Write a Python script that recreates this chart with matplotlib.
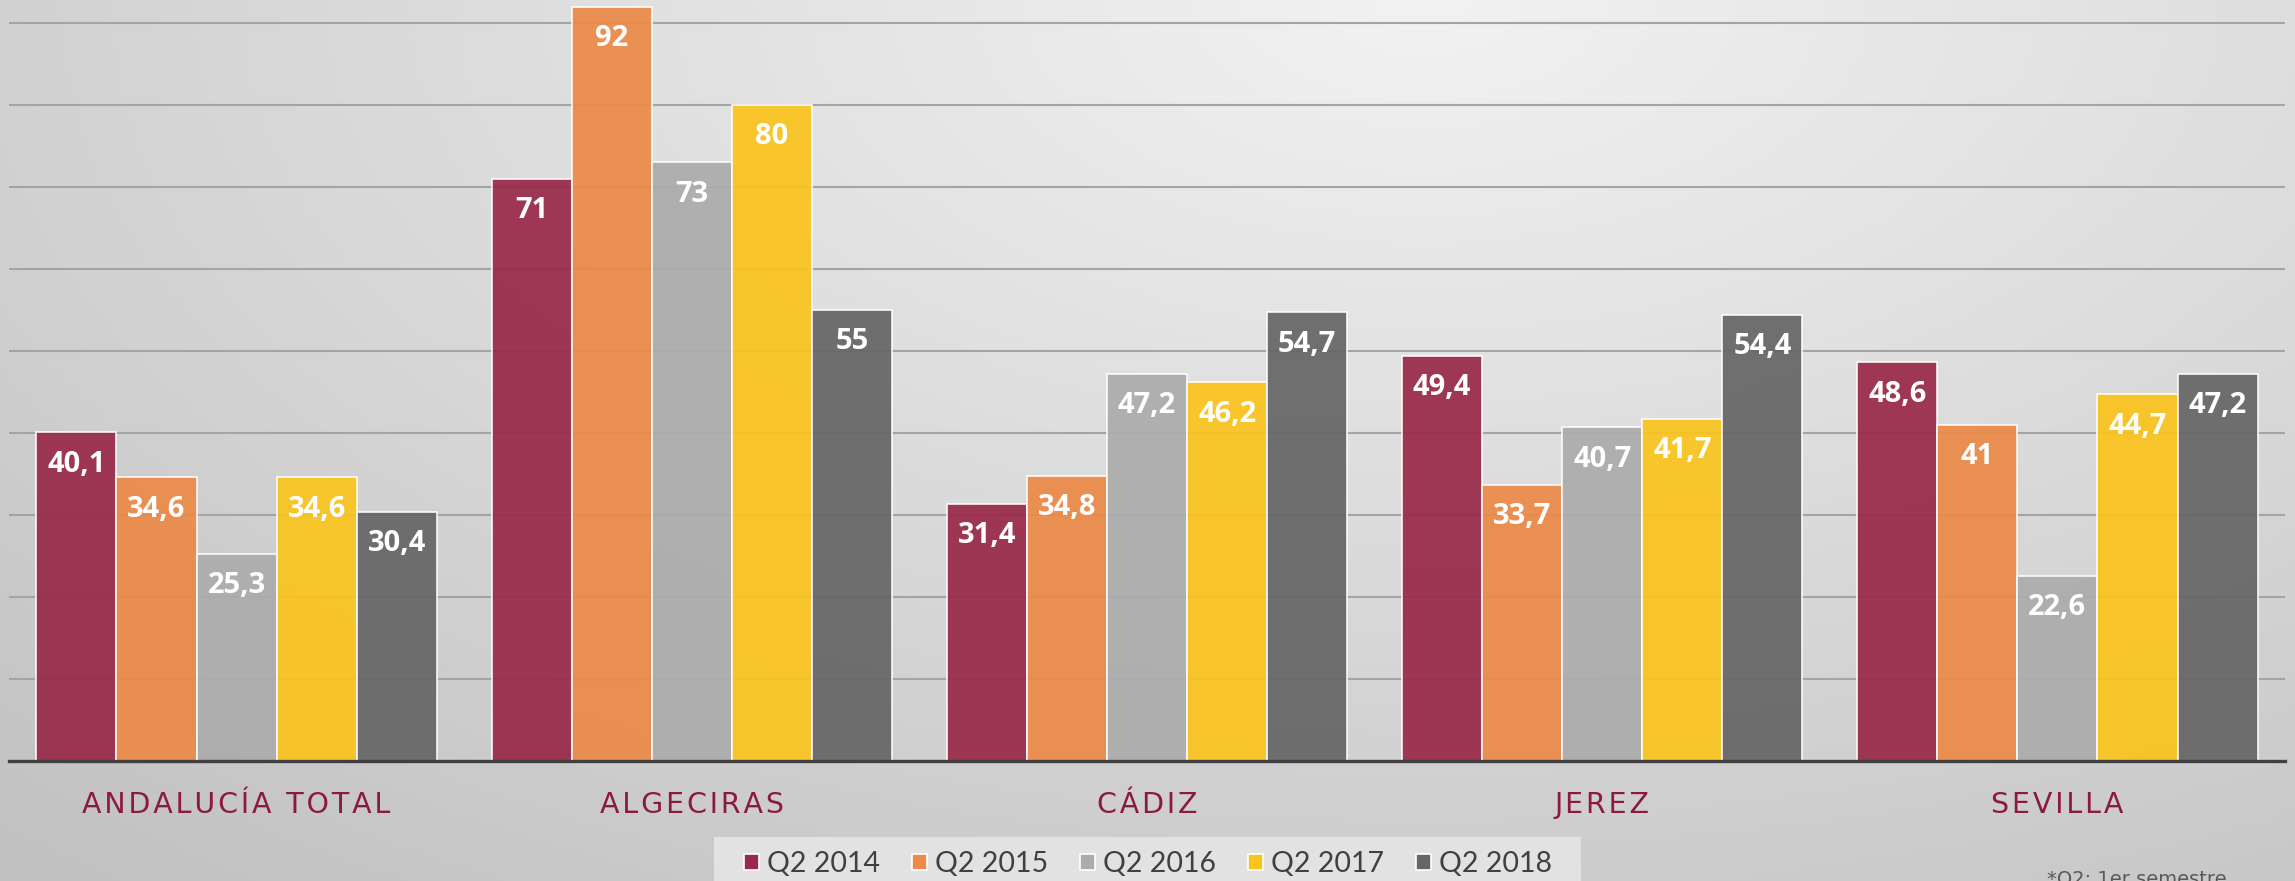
import matplotlib
matplotlib.use("Agg")
import matplotlib.pyplot as plt
from matplotlib.patches import Rectangle
import numpy as np

# data
categories = ["ANDALUCÍA TOTAL", "ALGECIRAS", "CÁDIZ", "JEREZ", "SEVILLA"]
series_names = ["Q2 2014", "Q2 2015", "Q2 2016", "Q2 2017", "Q2 2018"]
q2_2014 = [40.1, 71, 31.4, 49.4, 48.6]
q2_2015 = [34.6, 92, 34.8, 33.7, 41]
q2_2016 = [25.3, 73, 47.2, 40.7, 22.6]
q2_2017 = [34.6, 80, 46.2, 41.7, 44.7]
q2_2018 = [30.4, 55, 54.7, 54.4, 47.2]
series_values = [q2_2014, q2_2015, q2_2016, q2_2017, q2_2018]
colors = ["#992a49", "#ec8a48", "#acacac", "#fac41e", "#666666"]

W, H = 2295, 881
fig = plt.figure(figsize=(W / 100, H / 100), dpi=100)

# gradient background, lighter towards top centre-right
bg = fig.add_axes([0, 0, 1, 1], zorder=-10)
yy, xx = np.mgrid[0:1:200j, 0:1:400j]
d = np.sqrt(((xx - 0.62) * 1.4) ** 2 + (yy * 1.0) ** 2)
light = 0.95 - 0.16 * np.clip(d, 0, 1.3) / 1.3 * 1.2
light = np.clip(light, 0.76, 0.96)
bg.imshow(np.dstack([light] * 3), aspect="auto", extent=[0, 1, 0, 1], origin="upper")
bg.axis("off")

ax = fig.add_axes([9 / W, (H - 761) / H, (2285 - 9) / W, 761 / H])
ax.patch.set_alpha(0)

x = np.arange(len(categories))
width = 0.176
for i, (name, vals, c) in enumerate(zip(series_names, series_values, colors)):
    pos = x + (i - 2) * width
    bars = ax.bar(pos, vals, width, color=c, alpha=0.93, edgecolor=(1, 1, 1, 0.55),
                  linewidth=1.2, label=name, zorder=3)
    for b, v in zip(bars, vals):
        txt = f"{v:g}".replace(".", ",")
        ax.annotate(txt, (b.get_x() + b.get_width() / 2, v), xytext=(0, -23),
                    textcoords="offset points", ha="center", va="center",
                    color="white", fontsize=21, fontweight="bold",
                    family=["Open Sans", "DejaVu Sans"], zorder=5)

ax.set_xlim(-0.5, 4.5)
ax.set_ylim(0, 92.8)
ax.set_yticks(np.arange(10, 91, 10))
ax.yaxis.grid(True, color="#a4a4a4", linewidth=1.5, zorder=1)
ax.tick_params(axis="y", left=False, labelleft=False)
ax.set_xticks(x)
# hair spaces give the wide letter spacing of the original
spaced = ["\u200a".join(c) for c in categories]
ax.set_xticklabels(spaced, fontsize=20.5, color="#8c1a3c", family="DejaVu Sans")
ax.tick_params(axis="x", bottom=False, pad=18)
for s in ["top", "right", "left"]:
    ax.spines[s].set_visible(False)
ax.spines["bottom"].set_color("#404040")
ax.spines["bottom"].set_linewidth(2.4)
ax.spines["bottom"].set_zorder(4)

# legend box
fig.patches.append(Rectangle((714 / W, 0), (1581 - 714) / W, 44 / H,
                             transform=fig.transFigure, facecolor="#e2e2e2",
                             edgecolor="none", zorder=0))
leg = fig.legend(loc="center", bbox_to_anchor=(1148 / W, 17 / H), ncol=5,
                 prop={"family": ["Lato", "DejaVu Sans"], "size": 20.5},
                 frameon=False, handlelength=0.5, handleheight=0.5,
                 handletextpad=0.28, columnspacing=1.15, borderpad=0.2)
for t in leg.get_texts():
    t.set_color("#404040")
for h in leg.legend_handles:
    h.set_alpha(1)

# footnote, cut by the bottom edge as in the original
fig.text(2047 / W, 0.002, "*Q2: 1er semestre", fontsize=14, color="#595959",
         family="DejaVu Sans", ha="left", va="center")

fig.savefig("out.png", dpi=100)
